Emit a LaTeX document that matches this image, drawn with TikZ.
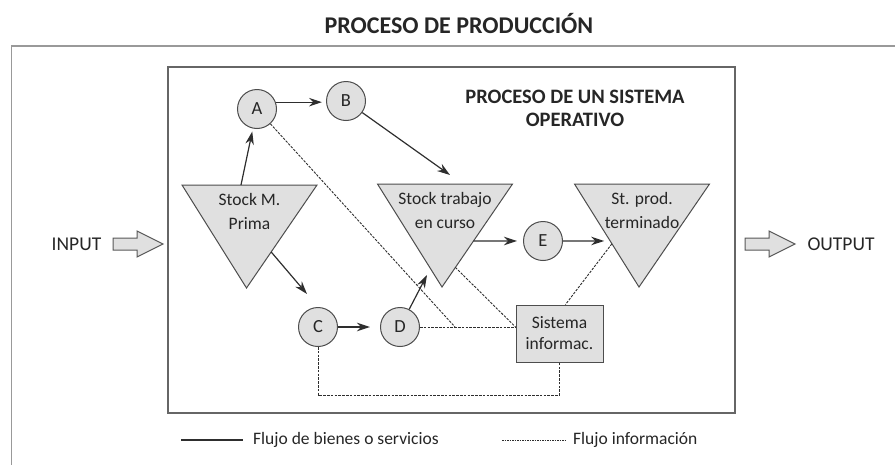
\documentclass[tikz,border=0pt]{standalone}
\usepackage{fontspec}
\setmainfont{Carlito}
\usetikzlibrary{arrows.meta,calc}
\definecolor{ln}{HTML}{2E2E2E}
\definecolor{fl}{HTML}{E0E0E0}
\definecolor{txt}{HTML}{262626}
\newcommand{\stocktri}[4]{%
  \coordinate (#1-l) at ({#2-67.5},{#3});
  \coordinate (#1-r) at ({#2+67.5},{#3});
  \coordinate (#1-b) at ({#2-3},{#3+103});
  \draw[tri] (#1-l) -- (#1-r) -- (#1-b) -- cycle;
  \node[lbl] (#1) at ({#2},{#3+26}) {#4};
}
\newcommand{\blockarrow}[2]{%
  \draw[barrow] ({#1},{#2-6}) -- ({#1+24},{#2-6}) -- ({#1+24},{#2-13}) -- ({#1+50},{#2})
    -- ({#1+24},{#2+13}) -- ({#1+24},{#2+6}) -- ({#1},{#2+6}) -- cycle;
}
\begin{document}
\begin{tikzpicture}[x=1pt,y=-1pt,
  every node/.style={text=txt},
  lbl/.style={align=center,inner sep=0pt,font=\fontsize{17.5}{24}\selectfont},
  tri/.style={draw=ln!85,fill=fl,line width=1pt,line join=miter},
  circ/.style={circle,draw=ln!85,fill=fl,line width=1pt,minimum size=39pt,inner sep=0pt,font=\fontsize{18.5}{21}\selectfont},
  sbox/.style={draw=ln!85,fill=fl,line width=1pt,minimum width=87pt,minimum height=57pt,inner sep=0pt,align=center,font=\fontsize{17.5}{21}\selectfont},
  flow/.style={draw=ln,line width=1.2pt,-{Stealth[length=13pt,width=8.5pt]}},
  info/.style={draw=ln,line width=0.9pt,dash pattern=on 2.5pt off 1.3pt},
  barrow/.style={draw=ln!80,fill=fl,line width=1pt,line join=miter},
  outer/.style={draw=black!40,line width=1.2pt},
  inner/.style={draw=black!60,line width=1.4pt}]
\useasboundingbox (0,0) rectangle (895,464);
\draw[outer] (11.5,46) rectangle (910,480);
\draw[inner] (168,67) rectangle (735,413);

\node[font=\bfseries\fontsize{24}{28}\selectfont] (title) at (459,24) {PROCESO DE PRODUCCIÓN};
\node[align=center,inner sep=0pt,font=\bfseries\fontsize{20.5}{23}\selectfont] (sub) at (575,108) {PROCESO DE UN SISTEMA\\OPERATIVO};

\stocktri{M}{249.5}{185}{Stock M.\\Prima}
\stocktri{T}{445}{184}{Stock trabajo\\en curso}
\stocktri{P}{642}{184}{St. prod.\\terminado}

\node[circ] (A) at (257,109) {A};
\node[circ] (B) at (346,101) {B};
\node[circ] (C) at (318,327) {C};
\node[circ] (D) at (400,327) {D};
\node[circ] (E) at (543,241) {E};
\node[sbox] (S) at (559.5,333.5) {Sistema\\informac.};

% information flows (dashed)
\coordinate (J) at (455,327);
\coordinate (lowy) at (0,395);
\draw[info] (A) -- (J);
\draw[info] (D.east) -- (D.east -| S.west);
\draw[info] ($(T-r)!0.81!(T-b)$) -- (D.east -| S.west);
\draw[info] ($(P-l)!0.58!(P-b)$) -- ([xshift=6pt]S.north);
\draw[info] (C.south) -- (C.south |- lowy) -| (S.south);

% flows of goods (solid arrows)
\coordinate (bt) at (450,175);
\coordinate (mc) at (307,294);
\coordinate (dt) at (427,275);
\draw[flow,shorten >=3pt] ($(M-l)!0.437!(M-r)$) -- (A);
\draw[flow,shorten >=4pt] (A.20) -- (A.20 -| B.west);
\draw[flow] (B) -- (bt);
\draw[flow] ($(M-r)!0.65!(M-b)$) -- (mc);
\draw[flow,shorten >=10pt] (C) -- (D);
\draw[flow] (D) -- (dt);
\draw[flow,shorten >=6pt] ($(T-r)!0.553!(T-b)$) -- (E);
\draw[flow,shorten >=6pt] (E) -- ($(P-l)!0.553!(P-b)$);

% input / output
\node[font=\fontsize{19.5}{22}\selectfont] (in) at (76.5,244) {INPUT};
\node[font=\fontsize{19.5}{22}\selectfont] (out) at (841,244) {OUTPUT};
\blockarrow{113}{244}
\blockarrow{745}{244}

% legend
\coordinate (l1a) at (181,440);
\coordinate (l1b) at (243,440);
\coordinate (l2a) at (502,440);
\coordinate (l2b) at (565,440);
\draw[draw=ln,line width=1.1pt] (l1a) -- (l1b);
\node[anchor=west,inner sep=0pt,font=\fontsize{17.5}{21}\selectfont] (lg1) at (253,440) {Flujo de bienes o servicios};
\draw[draw=ln,line width=0.9pt,dash pattern=on 1.5pt off 1pt] (l2a) -- (l2b);
\node[anchor=west,inner sep=0pt,font=\fontsize{17.5}{21}\selectfont] (lg2) at (573,440) {Flujo información};
\end{tikzpicture}
\end{document}
